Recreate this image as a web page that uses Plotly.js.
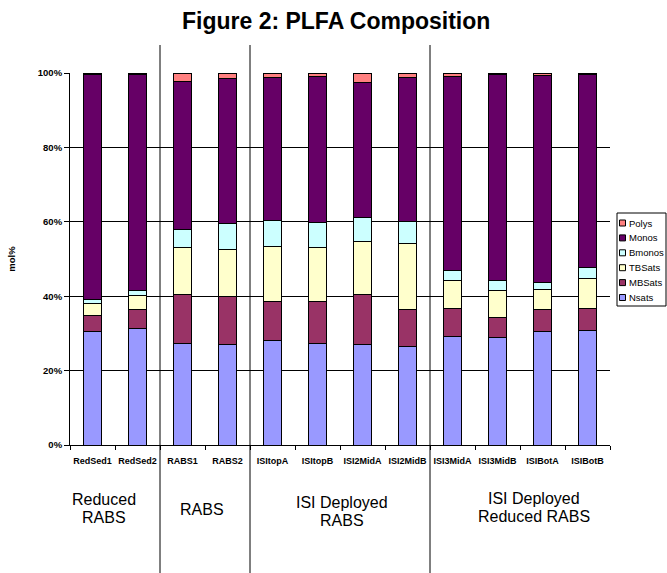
<!DOCTYPE html>
<html>
<head>
<meta charset="utf-8">
<script src="https://cdn.plot.ly/plotly-3.0.1.min.js"></script>
<style>
  html, body { margin: 0; padding: 0; background: #fff; }
  #chart { width: 667px; height: 573px; }
</style>
</head>
<body>
<div id="chart"></div>
<script>
// Sample names along the x axis
const samples = ["RedSed1", "RedSed2", "RABS1", "RABS2", "ISItopA", "ISItopB",
                 "ISI2MidA", "ISI2MidB", "ISI3MidA", "ISI3MidB", "ISIBotA", "ISIBotB"];

// PLFA classes, mol% of total per sample (stacked bottom to top)
const nsats  = [30.5, 31.4, 27.4, 27.1, 28.2, 27.4, 27.1, 26.4, 29.3, 28.8, 30.5, 30.7];
const mbsats = [ 4.2,  4.9, 13.0, 12.7, 10.5, 11.3, 13.3,  9.9,  7.3,  5.6,  5.9,  6.1];
const tbsats = [ 3.4,  3.9, 12.7, 12.8, 14.6, 14.4, 14.2, 18.0,  7.5,  7.0,  5.4,  7.9];
const bmonos = [ 0.9,  1.3,  4.7,  7.0,  7.1,  6.7,  6.6,  5.7,  2.9,  2.9,  1.8,  2.9];
const monos  = [60.5, 58.0, 40.0, 38.8, 38.3, 39.3, 36.3, 38.7, 52.1, 55.2, 55.7, 51.9];
const polys  = [ 0.5,  0.5,  2.2,  1.6,  1.3,  0.9,  2.5,  1.3,  0.9,  0.5,  0.7,  0.5];

// Series names and fill colours, bottom of the stack first
const seriesNames  = ["Nsats", "MBSats", "TBSats", "Bmonos", "Monos", "Polys"];
const seriesValues = [nsats, mbsats, tbsats, bmonos, monos, polys];
const seriesColors = ["#9999FF", "#993366", "#FFFFCC", "#CCFFFF", "#660066", "#FF8080"];

// Treatment groups written under the axis
const groupLines = [["Reduced", "RABS"], ["RABS"], ["ISI Deployed", "RABS"], ["ISI Deployed", "Reduced RABS"]];
const groupFirst = [0, 2, 4, 8];

const W = 667, H = 573;
const M = { l: 70, r: 57, t: 73, b: 128 };
const plotW = W - M.l - M.r, plotH = H - M.t - M.b;
// pixel position -> paper coordinates
const px = x => (x - M.l) / plotW;
const py = y => (H - M.b - y) / plotH;

const FONT = "Arial, 'Liberation Sans', sans-serif";

const traces = seriesNames.map((name, i) => ({
  type: "bar",
  name: name,
  x: samples,
  y: seriesValues[i],
  marker: { color: seriesColors[i], line: { color: "#000", width: 1 } },
  showlegend: false,
  hoverinfo: "x+y+name"
}));

// Vertical dividers between treatment groups, running below the axis
const shapes = groupFirst.slice(1).map(f => ({
  type: "line", xref: "x", yref: "paper",
  x0: f - 0.5, x1: f - 0.5, y0: py(H), y1: py(45),
  line: { color: "#000", width: 1 }
}));

const annotations = [];

// Group captions (each line set on its own)
const captionX  = [104, 202, 342, 534];
const captionY0 = [499, 509, 502, 498];
groupLines.forEach((lines, g) => {
  lines.forEach((t, k) => {
    annotations.push({
      text: t, xref: "paper", yref: "paper",
      x: px(captionX[g]), y: py(captionY0[g] + k * 18.5),
      xanchor: "center", yanchor: "middle", showarrow: false,
      font: { family: FONT, size: 16, color: "#000" }
    });
  });
});

// Legend box at the right, top entry = top of the stack
const legL = 617, legR = 667, legT = 213, legB = 306;
shapes.push({
  type: "rect", xref: "paper", yref: "paper",
  x0: px(legL), x1: px(legR - 1), y0: py(legB), y1: py(legT),
  fillcolor: "#fff", line: { color: "#000", width: 1 }
});
for (let k = 0; k < seriesNames.length; k++) {
  const i = seriesNames.length - 1 - k;
  const cy = 223 + k * 14.9;
  shapes.push({
    type: "rect", xref: "paper", yref: "paper",
    x0: px(619.5), x1: px(625.5), y0: py(cy + 3), y1: py(cy - 3),
    fillcolor: seriesColors[i], line: { color: "#000", width: 1 }
  });
  annotations.push({
    text: seriesNames[i], xref: "paper", yref: "paper",
    x: px(627), y: py(cy), xanchor: "left", yanchor: "middle", showarrow: false,
    font: { family: FONT, size: 9.5, color: "#000" }
  });
}

const layout = {
  width: W, height: H,
  margin: M,
  paper_bgcolor: "#fff", plot_bgcolor: "#fff",
  barmode: "stack", barnorm: "percent", bargap: 0.59,
  title: {
    text: "<b>Figure 2: PLFA Composition</b>",
    font: { family: FONT, size: 23, color: "#000" },
    x: 0.504, xanchor: "center", y: 1 - 21 / H, yanchor: "middle"
  },
  xaxis: {
    type: "category",
    tickson: "boundaries", ticks: "outside", ticklen: 4, tickcolor: "#000",
    showline: true, linecolor: "#000", linewidth: 1,
    showgrid: false,
    ticklabelstandoff: 7,
    tickfont: { family: FONT, size: 9, color: "#000", weight: "bold" },
    tickangle: 0
  },
  yaxis: {
    range: [0, 100], dtick: 20, ticksuffix: "%",
    ticks: "outside", ticklen: 5, tickcolor: "#000",
    showline: true, linecolor: "#000", linewidth: 1,
    showgrid: true, gridcolor: "#000", gridwidth: 1,
    zeroline: false,
    tickfont: { family: FONT, size: 9.5, color: "#000", weight: "bold" },
    title: { text: "mol%", font: { family: FONT, size: 9.5, color: "#000", weight: "bold" }, standoff: 20 }
  },
  showlegend: false,
  shapes: shapes,
  annotations: annotations
};

Plotly.newPlot("chart", traces, layout, { displayModeBar: false, staticPlot: true });
</script>
</body>
</html>
